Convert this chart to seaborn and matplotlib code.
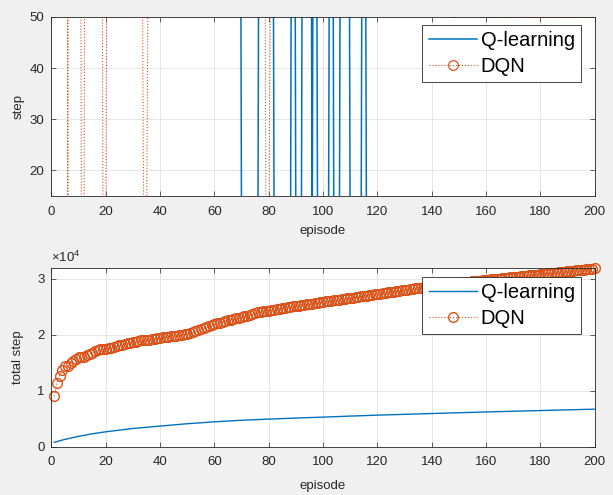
import numpy as np
import pandas as pd
import seaborn as sns
import matplotlib.pyplot as plt

# per-episode steps (top panel)
episode = np.arange(1, 201)

q_step = [780, 620, 540, 480, 440, 410, 390, 370, 350, 340,
          330, 320, 310, 305, 300, 295, 290, 285, 280, 275,
          272, 268, 265, 262, 259, 256, 253, 250, 248, 246,
          244, 242, 240, 238, 236, 234, 232, 230, 229, 228,
          227, 226, 225, 224, 223, 222, 221, 220, 219, 218,
          217, 216, 215, 214, 213, 212, 211, 210, 209, 208,
          207, 206, 205, 204, 203, 202, 201, 200, 200, 3,
          4, 3, 2, 3, 4, 3, 210, 205, 200, 198,
          196, 3, 4, 3, 2, 3, 4, 3, 205, 3,
          4, 3, 200, 198, 196, 3, 202, 3, 2, 4,
          3, 4, 200, 3, 2, 4, 198, 196, 195, 3,
          4, 3, 2, 3, 195, 3, 4, 2, 3, 4,
          3, 4, 2, 3, 5, 3, 2, 4, 3, 3,
          4, 3, 2, 3, 4, 5, 3, 2, 3, 4,
          3, 2, 4, 3, 3, 5, 2, 3, 4, 3,
          2, 3, 4, 3, 5, 3, 2, 4, 3, 3,
          4, 2, 3, 3, 4, 3, 5, 2, 3, 4,
          3, 3, 2, 4, 3, 5, 3, 2, 4, 3,
          3, 4, 2, 3, 3, 4, 5, 3, 2, 3,
          4, 3, 3, 2, 4, 3, 5, 3, 2, 3]

dqn_step = [9000, 2300, 1400, 950, 700, 5, 560, 450, 350, 280,
            6, 4, 300, 260, 230, 210, 195, 185, 5, 7,
            150, 145, 140, 130, 125, 120, 115, 110, 110, 105,
            110, 108, 105, 6, 5, 102, 100, 98, 96, 94,
            60, 58, 56, 55, 55, 56, 60, 70, 85, 100,
            130, 150, 165, 175, 180, 185, 185, 185, 185, 180,
            160, 150, 140, 130, 125, 120, 115, 110, 105, 100,
            140, 142, 145, 147, 148, 150, 152, 150, 6, 5,
            90, 88, 86, 84, 82, 80, 80, 78, 78, 76,
            76, 76, 75, 75, 74, 74, 74, 73, 73, 73,
            70, 69, 71, 68, 70, 69, 70, 68, 71, 69,
            70, 69, 70, 68, 71, 69, 70, 69, 70, 68,
            74, 72, 75, 73, 71, 74, 72, 73, 75, 72,
            73, 74, 71, 73, 72, 74, 73, 72, 73, 74,
            53, 52, 54, 52, 53, 52, 53, 51, 54, 52,
            53, 52, 53, 52, 54, 52, 53, 51, 52, 52,
            51, 52, 51, 53, 51, 52, 51, 51, 52, 51,
            53, 51, 52, 51, 51, 52, 51, 51, 52, 51,
            51, 53, 51, 52, 51, 51, 52, 51, 51, 52,
            51, 51, 53, 51, 52, 51, 51, 52, 51, 51]

# total steps (bottom panel); Q-learning curve
q_total_ep = [1, 3, 5, 10, 15, 20, 30, 40, 50, 60, 70, 80, 90, 100, 110, 120, 140, 160, 180, 200]
q_total = [780, 1050, 1310, 1850, 2300, 2660, 3250, 3680, 4100, 4440,
           4720, 4920, 5110, 5280, 5460, 5630, 5920, 6200, 6450, 6700]
dqn_total = np.cumsum(dqn_step)

blue = '#0072BD'
orange = '#D95319'
dark = '#262626'

plt.rcParams['font.family'] = ['Liberation Sans', 'DejaVu Sans']
plt.rcParams['mathtext.default'] = 'regular'

fig = plt.figure(figsize=(6.13, 4.95), dpi=100, facecolor='#f0f0f0')
ax1 = fig.add_axes([0.084, 0.604, 0.886, 0.362])
ax2 = fig.add_axes([0.084, 0.0976, 0.886, 0.360])

sns.lineplot(x=episode, y=q_step, ax=ax1, color=blue, lw=1.1, label='Q-learning')
sns.lineplot(x=episode, y=dqn_step, ax=ax1, color=orange, lw=0.8, linestyle=':',
             marker='o', markersize=7, markerfacecolor='none',
             markeredgecolor=orange, markeredgewidth=0.9, label='DQN')
ax1.set_xlim(0, 200)
ax1.set_ylim(15, 50)
ax1.set_yticks([20, 30, 40, 50])
ax1.set_ylabel('step')

sns.lineplot(x=q_total_ep, y=q_total, ax=ax2, color=blue, lw=1.0, label='Q-learning')
sns.lineplot(x=episode, y=dqn_total, ax=ax2, color=orange, lw=0.8, linestyle=':',
             marker='o', markersize=7, markerfacecolor='none',
             markeredgecolor=orange, markeredgewidth=1.0, label='DQN', clip_on=False)
ax2.set_xlim(0, 200)
ax2.set_ylim(0, dqn_total.max())
ax2.set_yticks([0, 10000, 20000, 30000])
ax2.set_yticklabels(['0', '1', '2', '3'])
ax2.set_ylabel('total step')
ax2.text(0, 1.017, r'$\times10^{4}$', transform=ax2.transAxes, ha='left', va='bottom',
         fontsize=9.5, color=dark)

for ax in (ax1, ax2):
    ax.set_facecolor('white')
    ax.set_xticks(range(0, 201, 20))
    ax.set_xlabel('episode', fontsize=9.5, color=dark)
    ax.yaxis.label.set_size(9.5)
    ax.yaxis.label.set_color(dark)
    ax.grid(True, color='#e2e2e2', lw=0.6)
    ax.set_axisbelow(True)
    ax.tick_params(direction='in', top=True, right=True, length=3.5, width=0.5,
                   colors=dark, labelsize=9.5)
    ax.tick_params(axis='x', pad=7)
    ax.tick_params(axis='y', pad=5)
    for s in ax.spines.values():
        s.set_color(dark)
        s.set_linewidth(0.6)
    ax.yaxis.set_label_coords(-0.05, 0.5)
    leg = ax.legend(loc='upper right', bbox_to_anchor=(0.975, 0.954), borderaxespad=0,
                    fontsize=14.5, fancybox=False, framealpha=1, edgecolor=dark,
                    handlelength=2.4, handletextpad=0.2, borderpad=0.3, labelspacing=0.35)
    leg.get_frame().set_linewidth(0.6)

ax1.xaxis.set_label_coords(0.5, -0.159)
ax2.xaxis.set_label_coords(0.5, -0.188)

fig.savefig('out.png', dpi=100, facecolor=fig.get_facecolor())
